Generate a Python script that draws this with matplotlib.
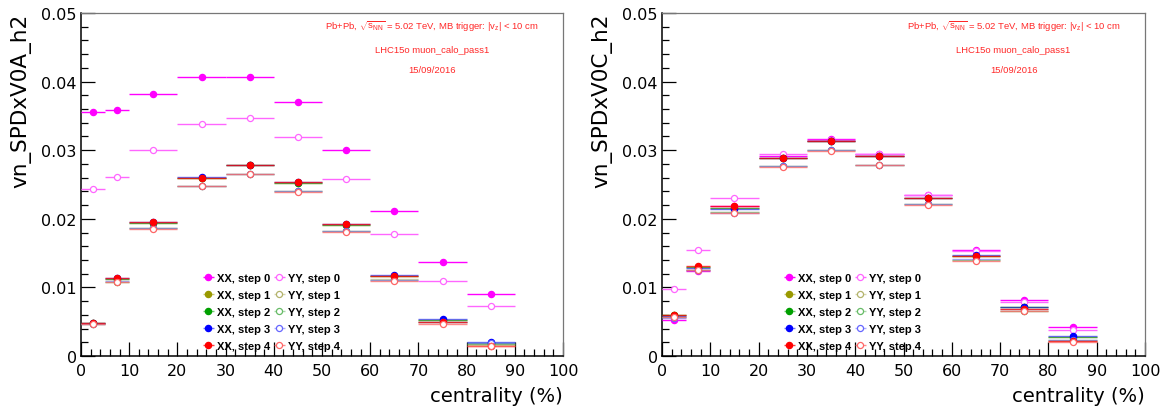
import matplotlib
matplotlib.use("Agg")
import matplotlib.pyplot as plt
from matplotlib.ticker import MultipleLocator

# centrality bins (centre, half width)
cent = [2.5, 7.5, 15, 25, 35, 45, 55, 65, 75, 85]
half_width = [2.5, 2.5, 5, 5, 5, 5, 5, 5, 5, 5]

# vn_SPDxV0A_h2, one row per step (0..4)
v0a_xx = [
    [0.0356, 0.0359, 0.0382, 0.0407, 0.0406, 0.0370, 0.0300, 0.0212, 0.0137, 0.0090],
    [0.0048, 0.0112, 0.0194, 0.0260, 0.0278, 0.0252, 0.0191, 0.0117, 0.0052, 0.0018],
    [0.0048, 0.0112, 0.0194, 0.0260, 0.0278, 0.0252, 0.0191, 0.0117, 0.0052, 0.0019],
    [0.0048, 0.0113, 0.0195, 0.0261, 0.0279, 0.0253, 0.0192, 0.0118, 0.0054, 0.0021],
    [0.0048, 0.0113, 0.0195, 0.0260, 0.0279, 0.0253, 0.0192, 0.0116, 0.0050, 0.0014],
]
v0a_yy = [
    [0.0243, 0.0261, 0.0301, 0.0338, 0.0347, 0.0319, 0.0258, 0.0178, 0.0110, 0.0073],
    [0.0047, 0.0108, 0.0186, 0.0248, 0.0265, 0.0240, 0.0182, 0.0112, 0.0049, 0.0016],
    [0.0047, 0.0108, 0.0186, 0.0248, 0.0265, 0.0240, 0.0182, 0.0111, 0.0049, 0.0017],
    [0.0047, 0.0109, 0.0186, 0.0248, 0.0266, 0.0240, 0.0182, 0.0111, 0.0050, 0.0019],
    [0.0047, 0.0108, 0.0185, 0.0248, 0.0265, 0.0239, 0.0181, 0.0110, 0.0047, 0.0015],
]

# vn_SPDxV0C_h2
v0c_xx = [
    [0.0053, 0.0124, 0.0219, 0.0292, 0.0316, 0.0295, 0.0235, 0.0155, 0.0081, 0.0042],
    [0.0060, 0.0130, 0.0216, 0.0289, 0.0313, 0.0292, 0.0231, 0.0146, 0.0071, 0.0027],
    [0.0060, 0.0130, 0.0216, 0.0289, 0.0313, 0.0292, 0.0231, 0.0146, 0.0071, 0.0028],
    [0.0059, 0.0129, 0.0214, 0.0288, 0.0313, 0.0291, 0.0230, 0.0147, 0.0072, 0.0029],
    [0.0060, 0.0131, 0.0218, 0.0289, 0.0313, 0.0292, 0.0231, 0.0146, 0.0069, 0.0022],
]
v0c_yy = [
    [0.0098, 0.0154, 0.0230, 0.0294, 0.0315, 0.0294, 0.0234, 0.0153, 0.0078, 0.0038],
    [0.0057, 0.0126, 0.0210, 0.0277, 0.0300, 0.0279, 0.0221, 0.0140, 0.0066, 0.0022],
    [0.0057, 0.0126, 0.0210, 0.0277, 0.0300, 0.0279, 0.0221, 0.0140, 0.0066, 0.0023],
    [0.0056, 0.0126, 0.0209, 0.0277, 0.0300, 0.0279, 0.0221, 0.0141, 0.0068, 0.0024],
    [0.0057, 0.0125, 0.0208, 0.0276, 0.0299, 0.0278, 0.0220, 0.0139, 0.0065, 0.0020],
]

steps = [0, 1, 2, 3, 4]
xx_colors = ["#ff00ff", "#999900", "#00a000", "#0000ff", "#ff0000"]
yy_colors = ["#ff66ff", "#b3b36b", "#66bb66", "#6666ff", "#ff6666"]
line_alpha = [1.0, 0.55, 0.55, 0.55, 0.75]

info_lines = [
    r"Pb+Pb, $\sqrt{s_{\rm NN}}$ = 5.02 TeV, MB trigger: |v$_{z}$| < 10 cm",
    "LHC15o muon_calo_pass1",
    "15/09/2016",
]

plt.rcParams["font.family"] = "DejaVu Sans"
plt.rcParams["mathtext.fontset"] = "custom"
plt.rcParams["mathtext.rm"] = "Liberation Sans"
plt.rcParams["mathtext.it"] = "Liberation Sans"


def draw_panel(ax, xx, yy, ylabel, leg_x):
    hx, hy = [], []
    for s in steps:
        e1 = ax.errorbar(cent, xx[s], xerr=half_width, fmt="o", ms=4.4,
                         color=xx_colors[s], mfc=xx_colors[s], mec=xx_colors[s],
                         elinewidth=1.0, capsize=0, zorder=3)
        e2 = ax.errorbar(cent, yy[s], xerr=half_width, fmt="o", ms=4.4,
                         color=yy_colors[s], mfc="white", mec=yy_colors[s],
                         mew=0.9, elinewidth=1.0, capsize=0, zorder=3)
        for e in (e1, e2):
            for lc in e[2]:
                lc.set_alpha(line_alpha[s])
        hx.append(e1)
        hy.append(e2)

    ax.set_xlim(0, 100)
    ax.set_ylim(0, 0.05)
    ax.xaxis.set_major_locator(MultipleLocator(10))
    ax.xaxis.set_minor_locator(MultipleLocator(2))
    ax.yaxis.set_major_locator(MultipleLocator(0.01))
    ax.yaxis.set_minor_locator(MultipleLocator(0.002))
    ax.tick_params(which="both", direction="in", top=False, right=False,
                   labelsize=11.5, width=0.9)
    ax.tick_params(axis="y", which="major", length=10, pad=3)
    ax.tick_params(axis="y", which="minor", length=5)
    ax.tick_params(axis="x", which="major", length=10, pad=5)
    ax.tick_params(axis="x", which="minor", length=5)
    ax.yaxis.set_major_formatter(lambda v, p: "0" if v == 0 else f"{v:.2f}")
    for side in ("left", "bottom"):
        ax.spines[side].set_linewidth(1.1)
        ax.spines[side].set_color("black")
    for side in ("top", "right"):
        ax.spines[side].set_linewidth(0.9)
        ax.spines[side].set_color("#777777")

    ax.text(-0.124, 1.0, ylabel, transform=ax.transAxes, rotation=90,
            ha="center", va="top", fontsize=15.5)
    ax.text(1.0, -0.088, "centrality (%)", transform=ax.transAxes,
            ha="right", va="top", fontsize=14)

    for txt, ypos in zip(info_lines, [0.962, 0.895, 0.834]):
        ax.text(0.728, ypos, txt, transform=ax.transAxes, ha="center",
                va="center", fontsize=6.8, color="#ff2828",
                family="Liberation Sans")

    labels = [f"XX, step {s}" for s in steps] + [f"YY, step {s}" for s in steps]
    ax.legend(hx + hy, labels, ncol=2, loc="lower left",
              bbox_to_anchor=(leg_x, -0.002), frameon=False,
              prop={"size": 8, "weight": "bold", "family": "Liberation Sans"},
              handlelength=1.1, handletextpad=0.25, columnspacing=0.25,
              labelspacing=0.64, borderpad=0.0)


fig = plt.figure(figsize=(11.64, 4.14), dpi=100)
ax1 = fig.add_axes([81 / 1164, 57 / 414, 482 / 1164, 343 / 414])
ax2 = fig.add_axes([662 / 1164, 57 / 414, 483 / 1164, 343 / 414])

draw_panel(ax1, v0a_xx, v0a_yy, "vn_SPDxV0A_h2", 0.24)
draw_panel(ax2, v0c_xx, v0c_yy, "vn_SPDxV0C_h2", 0.239)

fig.savefig("out.png", dpi=100)
